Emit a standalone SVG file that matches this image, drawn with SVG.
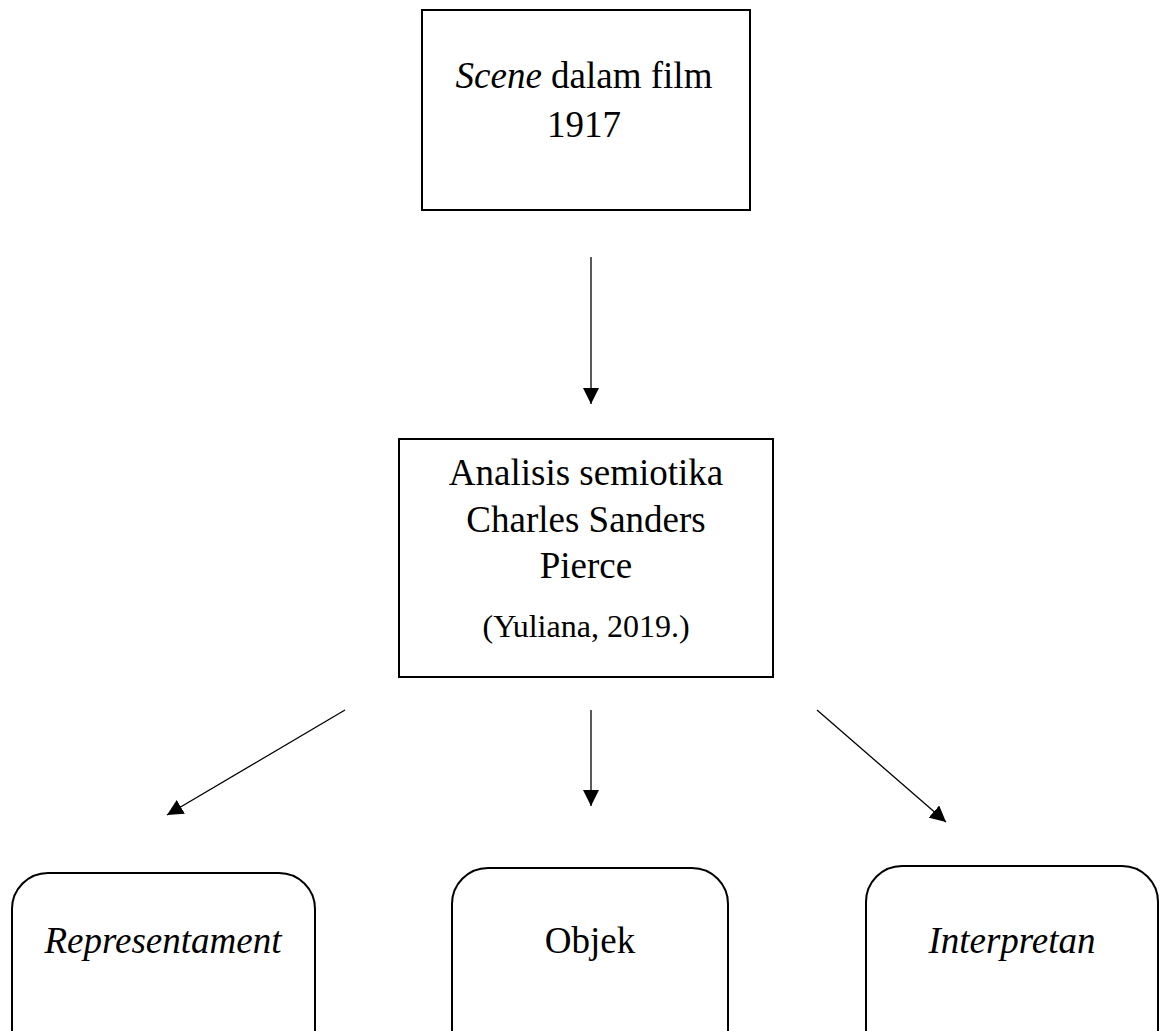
<svg xmlns="http://www.w3.org/2000/svg" width="1161" height="1031" viewBox="0 0 1161 1031">
<style>
.box{fill:#fff;stroke:#000;stroke-width:2}
.t{font-family:"Liberation Serif","Times New Roman",serif;font-size:37px;fill:#000;text-anchor:middle}
.s{font-size:32px}
.i{font-style:italic}
.c{stroke:#000;stroke-width:1.3;fill:none;marker-end:url(#ah)}
</style>
<defs>
<marker id="ah" viewBox="0 0 10 10" refX="10" refY="5" markerUnits="userSpaceOnUse" markerWidth="16" markerHeight="16" orient="auto">
<path d="M0,0 L10,5 L0,10 z" fill="#000"/>
</marker>
</defs>
<rect width="1161" height="1031" fill="#fff"/>
<g id="node-scene">
<rect class="box" x="422" y="10" width="328" height="200"/>
<text class="t" x="584" y="88"><tspan class="i">Scene</tspan> dalam film</text>
<text class="t" x="584" y="137">1917</text>
</g>
<g id="node-analisis">
<rect class="box" x="399" y="439" width="374" height="238"/>
<text class="t" x="586" y="485">Analisis semiotika</text>
<text class="t" x="586" y="532">Charles Sanders</text>
<text class="t" x="586" y="578">Pierce</text>
<text class="t s" x="586" y="637">(Yuliana, 2019.)</text>
</g>
<g id="node-representament">
<rect class="box" x="12" y="873" width="303" height="200" rx="36" ry="36"/>
<text class="t i" x="163" y="953">Representament</text>
</g>
<g id="node-objek">
<rect class="box" x="452" y="868" width="276" height="200" rx="36" ry="36"/>
<text class="t" x="590" y="953">Objek</text>
</g>
<g id="node-interpretan">
<rect class="box" x="866" y="866" width="292" height="200" rx="36" ry="36"/>
<text class="t i" x="1012" y="953">Interpretan</text>
</g>
<g id="connectors">
<line class="c" x1="591" y1="257" x2="591" y2="404"/>
<line class="c" x1="345" y1="710" x2="167" y2="815"/>
<line class="c" x1="591" y1="710" x2="591" y2="806"/>
<line class="c" x1="817" y1="710" x2="946" y2="822"/>
</g>
</svg>
